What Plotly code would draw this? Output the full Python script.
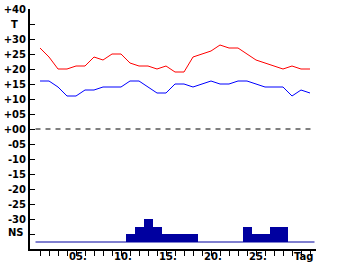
import plotly.graph_objects as go

days = list(range(1, 32))
tmax = [27, 24, 20, 20, 21, 21, 24, 23, 25, 25, 22, 21, 21, 20, 21, 19, 19,
        24, 25, 26, 28, 27, 27, 25, 23, 22, 21, 20, 21, 20, 20]
tmin = [16, 16, 14, 11, 11, 13, 13, 14, 14, 14, 16, 16, 14, 12, 12, 15, 15,
        14, 15, 16, 15, 15, 16, 16, 15, 14, 14, 14, 11, 13, 12]
precip = [0, 0, 0, 0, 0, 0, 0, 0, 0, 0, 1, 2, 3, 2, 1, 1, 1, 1, 0, 0, 0, 0,
          0, 2, 1, 1, 2, 2, 0, 0, 0]

y_tickvals = [40, 35, 30, 25, 20, 15, 10, 5, 0, -5, -10, -15, -20, -25, -30, -35]
y_ticktext = ["+40", "", "+30", "+25", "+20", "+15", "+10", "+05", "+00",
              "-05", "-10", "-15", "-20", "-25", "-30", ""]
x_labelvals = [5, 10, 15, 20, 25, 30]
x_labeltext = ["05.", "10.", "15.", "20.", "25.", "Tag"]

FONT = dict(family="DejaVu Sans", size=10, color="black", weight="bold")
NAVY = "#0000a0"

fig = go.Figure()
fig.add_trace(go.Bar(x=days, y=precip, base=0, width=1, yaxis="y2",
                     marker=dict(color=NAVY, line=dict(width=0)),
                     showlegend=False))
fig.add_trace(go.Scatter(x=[0.5, 31.5], y=[0, 0], yaxis="y2", mode="lines",
                         line=dict(color=NAVY, width=1), showlegend=False))
fig.add_trace(go.Scatter(x=[0.5, 31.5], y=[0, 0], mode="lines",
                         line=dict(color="black", width=1, dash="5px,5px"),
                         showlegend=False))
fig.add_trace(go.Scatter(x=days, y=tmax, mode="lines",
                         line=dict(color="#ff0000", width=1), showlegend=False))
fig.add_trace(go.Scatter(x=days, y=tmin, mode="lines",
                         line=dict(color="#0000ff", width=1), showlegend=False))

annotations = [
    dict(text="T", x=0, y=35, xref="paper", yref="y", xanchor="center",
         yanchor="middle", xshift=-16, showarrow=False, font=FONT),
    dict(text="NS", x=0, y=-35, xref="paper", yref="y", xanchor="right",
         yanchor="middle", xshift=-4, yshift=2, showarrow=False, font=FONT),
]
for v, t in zip(x_labelvals, x_labeltext):
    annotations.append(dict(text=t, x=v, y=0, xref="x", yref="paper",
                            xanchor="center", yanchor="middle",
                            xshift=2, yshift=-7, showarrow=False, font=FONT))

fig.update_layout(
    width=340, height=265,
    margin=dict(l=30, r=24, t=9, b=16),
    paper_bgcolor="white", plot_bgcolor="white",
    font=FONT,
    bargap=0,
    xaxis=dict(range=[-1/9, 31.667], showgrid=False, zeroline=False,
               automargin=False,
               showline=True, linecolor="black", linewidth=2,
               ticks="outside", ticklen=5, tickcolor="black", tickwidth=1,
               tickvals=days, ticktext=["" for d in days],
               tickfont=FONT),
    yaxis=dict(range=[-40, 40], showgrid=False, zeroline=False,
               automargin=False,
               showline=True, linecolor="black", linewidth=2,
               ticks="inside", ticklen=5, tickcolor="black", tickwidth=1,
               tickvals=y_tickvals, ticktext=y_ticktext, tickfont=FONT),
    yaxis2=dict(range=[-0.913, 30.39], overlaying="y", visible=False),
    annotations=annotations,
)

fig.write_html("out.html")
